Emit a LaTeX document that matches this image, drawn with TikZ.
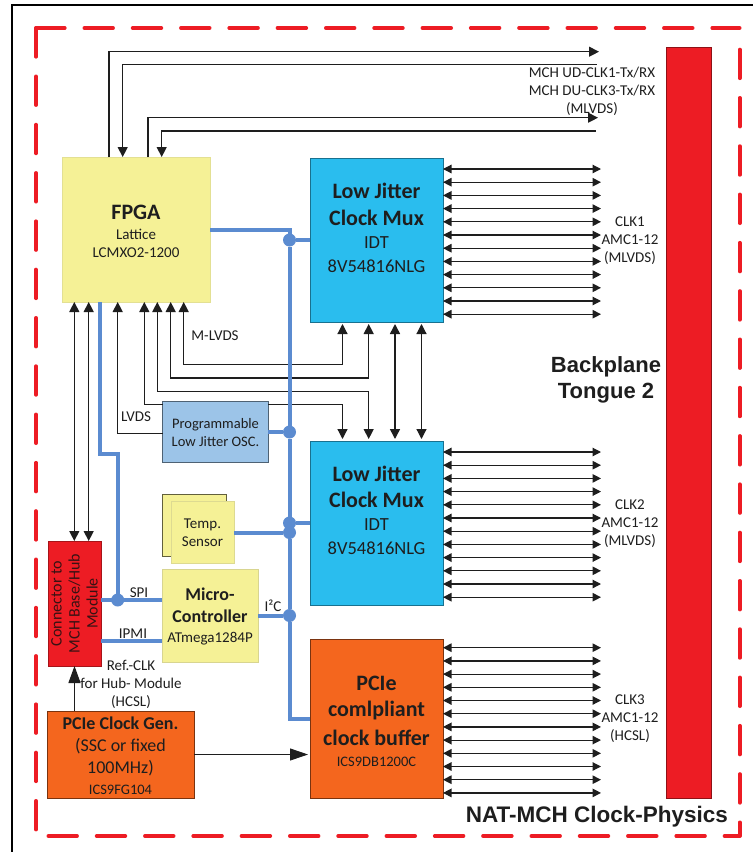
\documentclass[tikz,border=0pt]{standalone}
\usepackage{fontspec}
\setmainfont{Carlito}
\newfontfamily\headfont{Liberation Sans}
\usetikzlibrary{arrows.meta,calc}
\definecolor{rd}{HTML}{ED1C24}
\definecolor{cy}{HTML}{2ABDEE}
\definecolor{yl}{HTML}{F5F196}
\definecolor{og}{HTML}{F4661E}
\definecolor{lb}{HTML}{9CC4E8}
\definecolor{bus}{HTML}{5B8BD0}
\definecolor{ink}{HTML}{1E1E1E}
\newcommand{\fs}[1]{\fontsize{#1}{18}\selectfont}
\tikzset{
  x=1pt,y=-1pt,
  every node/.style={outer sep=0pt,inner sep=0pt,text=ink},
  box/.style={rectangle,minimum width=#1},
  fpgabox/.style={box=148pt,minimum height=145pt,fill=yl,draw=yl!85!gray,line width=.5pt},
  muxbox/.style={box=133pt,minimum height=164pt,fill=cy,draw=cy!60!black,line width=.6pt},
  bufbox/.style={box=133pt,minimum height=159pt,fill=og,draw=og!50!black,line width=.7pt},
  genbox/.style={box=147pt,minimum height=87pt,fill=og,draw=og!50!black,line width=.7pt},
  connbox/.style={box=53pt,minimum height=125pt,fill=rd,draw=rd!70!black,line width=.5pt},
  ucbox/.style={box=96pt,minimum height=93pt,fill=yl,draw=yl!75!gray,line width=.6pt},
  oscbox/.style={box=105.6pt,minimum height=61pt,fill=lb,draw=lb!50!black,line width=.7pt},
  tempback/.style={box=64pt,minimum height=62.5pt,fill=yl,draw=yl!40!black,line width=.7pt},
  tempfront/.style={box=63pt,minimum height=61.5pt,fill=yl,draw=yl!80!gray,line width=.6pt},
  planebox/.style={box=45pt,minimum height=751pt,fill=rd,draw=rd!60!black,line width=.6pt},
  txt/.style={align=center,font=\fs{15}},
  ln/.style={draw=ink,line width=1.2pt},
  gib/.style={-{Triangle[length=10pt,width=10pt]}},
  bth/.style={{Triangle[length=10pt,width=10pt]}-{Triangle[length=10pt,width=10pt]}},
  smal/.style={{Triangle[length=8.5pt,width=8.5pt]}-{Triangle[length=8.5pt,width=8.5pt]}},
  busl/.style={draw=bus,line width=4pt},
  dot/.style={circle,fill=bus,minimum size=13pt},
  dashred/.style={draw=rd,line width=3.6pt,line cap=round,dash pattern=on 28.8pt off 19.5pt},
  fence/.style={draw=black,line width=2pt}
}
\begin{document}
\begin{tikzpicture}
\useasboundingbox (0,0) rectangle (753,852);
\fill[white] (0,0) rectangle (753,852);
% frame
\coordinate (fa) at (12,852);
\coordinate (fb) at (12,5);
\coordinate (fc) at (753,5);
\draw[fence] (fa) -- (fb) -- (fc);
% dashed outline
\coordinate (tl) at (36,28);
\coordinate (tr) at (739.7,28);
\coordinate (rs) at (739.7,49.5);
\coordinate (br) at (739.7,836);
\coordinate (bl) at (36,830);
\coordinate (bx) at (46,836);
\draw[dashred] (tl) -- (tr);
\draw[dashred] (tl) -- (bl);
\draw[dashred] (rs) -- (br);
\draw[dashred,dash phase=13.6pt] (br) -- (bx);
% boxes
\node[planebox] (plane) at (689.2,423) {};
\node[fpgabox] (fpga) at (136,229.5) {};
\node[muxbox] (muxa) at (376.5,240) {};
\node[muxbox] (muxb) at (376.5,523) {};
\node[bufbox] (buf) at (376.5,718.5) {};
\node[genbox] (gen) at (120.5,754.5) {};
\node[connbox] (conn) at (74.5,603.5) {};
\node[ucbox] (uc) at (210,615.5) {};
\node[oscbox] (osc) at (215.5,432) {};
\node[tempback] (tempb) at (194.7,525.5) {};
\node[tempfront] (tempf) at (202.5,532.5) {};
% box texts
\node[txt] (tfpga) at (136,231) {\fs{22}\bfseries FPGA\\[2pt]\fs{15}Lattice\\\fs{15}LCMXO2-1200};
\node[txt] (tmuxa) at (376.5,228) {\fs{22}\bfseries Low Jitter\\[8.5pt]\fs{22}\bfseries Clock Mux\\[5pt]\fs{18.5}IDT\\[6pt]\fs{18.5}8V54816NLG};
\node[txt] (tmuxb) at (376.5,510.5) {\fs{22}\bfseries Low Jitter\\[8.5pt]\fs{22}\bfseries Clock Mux\\[5pt]\fs{18.5}IDT\\[6pt]\fs{18.5}8V54816NLG};
\node[txt] (tbuf) at (376.5,721) {\fs{22}\bfseries PCIe\\[8.7pt]\fs{22}\bfseries comlpliant\\[9pt]\fs{22}\bfseries clock buffer\\[2.5pt]\fs{14.5}ICS9DB1200C};
\node[txt] (tgen) at (120.5,755.5) {\fs{18}\bfseries PCIe Clock Gen.\\[4.7pt]\fs{18}(SSC or fixed\\[3.5pt]\fs{18}100MHz)\\[3pt]\fs{14.5}ICS9FG104};
\node[txt,rotate=90,text=ink!70!rd!60!black] (tconn) at (74.5,603.5) {\fs{16}Connector to\\\fs{16}MCH Base/Hub\\\fs{16}Module};
\node[txt] (tuc) at (210,616.3) {\fs{18}\bfseries Micro-\\[4pt]\fs{18}\bfseries Controller\\[2.5pt]\fs{15}ATmega1284P};
\node[txt] (tosc) at (215.5,432.5) {\fs{14.5}Programmable\\\fs{14.5}Low Jitter OSC.};
\node[txt] (ttemp) at (202.5,533) {\fs{15}Temp.\\\fs{15}Sensor};
% anchors below FPGA and beside muxes
\coordinate (fa1) at ([xshift=12.3pt]fpga.south west);
\coordinate (fa2) at ([xshift=26.7pt]fpga.south west);
\coordinate (fb0) at ([xshift=37.5pt]fpga.south west);
\coordinate (fa3) at ([xshift=55.7pt]fpga.south west);
\coordinate (fa4) at ([xshift=82.3pt]fpga.south west);
\coordinate (fa5) at ([xshift=95.3pt]fpga.south west);
\coordinate (fa6) at ([xshift=108.7pt]fpga.south west);
\coordinate (fa7) at ([xshift=121.7pt]fpga.south west);
\coordinate (ca1) at ([xshift=26.3pt]conn.north west);
\coordinate (ca2) at ([xshift=40.7pt]conn.north west);
\coordinate (ua) at ([xshift=32.5pt,yshift=-2pt]muxa.south west);
\coordinate (ub) at ([xshift=58.7pt,yshift=-2pt]muxa.south west);
\coordinate (uc2) at ([xshift=85pt,yshift=-2pt]muxa.south west);
\coordinate (ud) at ([xshift=111.5pt,yshift=-2pt]muxa.south west);
\coordinate (la) at ([xshift=32.5pt,yshift=2pt]muxb.north west);
\coordinate (lb) at ([xshift=58.7pt,yshift=2pt]muxb.north west);
\coordinate (lc) at ([xshift=85pt,yshift=2pt]muxb.north west);
\coordinate (ld) at ([xshift=111.5pt,yshift=2pt]muxb.north west);
\coordinate (ra) at (0,364.3);
\coordinate (rb) at (0,378);
\coordinate (rc) at (0,391.3);
\coordinate (rd) at (0,404.7);
\coordinate (re) at (0,433.7);
% top lines
\coordinate (ta) at ([xshift=47pt]fpga.north west);
\coordinate (tb) at ([xshift=60.7pt]fpga.north west);
\coordinate (tc) at ([xshift=86pt]fpga.north west);
\coordinate (td) at ([xshift=99.7pt]fpga.north west);
\coordinate (ea) at (599,51.7);
\coordinate (eb) at (596.7,64.7);
\coordinate (ec) at (598,117.7);
\coordinate (ed) at (595.7,131);
\draw[ln,gib] (ta) -- (ta |- ea) -- (ea);
\draw[ln,gib] (eb) -- (tb |- eb) -- (tb);
\draw[ln,gib] (tc) -- (tc |- ec) -- (ec);
\draw[ln,gib] (ed) -- (td |- ed) -- (td);
% FPGA to connector
\draw[ln,bth] (fa1) -- (ca1);
\draw[ln,bth] (fa2) -- (ca2);
% FPGA to muxes and oscillator
\draw[ln,bth] (fa7) -- (fa7 |- ra) -- (ua |- ra) -- (ua);
\draw[ln,bth] (fa6) -- (fa6 |- rb) -- (ub |- rb) -- (ub);
\draw[ln,bth] (fa5) -- (fa5 |- rc) -- (lb |- rc) -- (lb);
\draw[ln,gib] (osc.north west |- rd) -- (fa4 |- rd) -- (fa4);
\draw[ln,gib] (osc.north east |- rd) -- (la |- rd) -- (la);
\draw[ln,gib] (osc.west |- re) -- (fa3 |- re) -- (fa3);
% mux to mux
\draw[ln,bth,line width=1.5pt] (uc2) -- (lc);
\draw[ln,bth] (ud) -- (ld);
% clock fans
\foreach \i in {0,...,11} {
  \coordinate (pa) at (601,{169+13.2*\i});
  \draw[ln,smal] (muxa.east |- pa) -- (pa);
  \coordinate (pb) at (601,{452+13.2*\i});
  \draw[ln,smal] (muxb.east |- pb) -- (pb);
  \coordinate (pc) at (601,{647.7+13.2*\i});
  \draw[ln,smal] (buf.east |- pc) -- (pc);
}
% PCIe clock generator arrows
\draw[ln,-{Triangle[length=17pt,width=12pt]}] (gen.north -| conn.south) -- (conn.south);
\draw[line width=.9pt,draw=ink,-{Triangle[length=18pt,width=12pt]}] (gen.east) -- ([xshift=-2pt]gen.east -| buf.west);
% blue bus
\node[dot] (da) at (289.5,240) {};
\node[dot] (db) at (289.5,432) {};
\node[dot] (dc) at (289.5,523) {};
\node[dot] (dd) at (289.5,532.5) {};
\node[dot] (de) at (289.5,615.5) {};
\node[dot] (df) at (117.7,600) {};
\coordinate (ga) at (0,454);
\coordinate (gb) at (0,641);
\draw[busl] (fpga.east) -- (fpga.east -| da) -- (da) -- (db) -- (dc) -- (dd) -- (de) -- (de |- buf.west) -- (buf.west);
\draw[busl] (da) -- (muxa.west);
\draw[busl] (db) -- (osc.east);
\draw[busl] (dc) -- (muxb.west);
\draw[busl] (dd) -- (tempf.east);
\draw[busl] (de) -- (uc.east);
\draw[busl] (fb0) -- (fb0 |- ga) -- (df |- ga) -- (df);
\draw[busl] (conn.east |- df) -- (uc.west |- df);
\draw[busl] (conn.east |- gb) -- (uc.west |- gb);
% labels
\node[txt] (lmch) at (592,91) {MCH UD-CLK1-Tx/RX\\MCH DU-CLK3-Tx/RX\\(MLVDS)};
\node[txt] (lclka) at (630,240.5) {CLK1\\AMC1-12\\(MLVDS)};
\node[txt] (lclkb) at (630,523.5) {CLK2\\AMC1-12\\(MLVDS)};
\node[txt] (lclkc) at (630,719) {CLK3\\AMC1-12\\(HCSL)};
\node[txt] (lml) at (215,336) {M-LVDS};
\node[txt] (ll) at (136,417) {LVDS};
\node[txt] (lspi) at (139,592.5) {SPI};
\node[txt] (lipmi) at (133,633.5) {IPMI};
\node[txt] (lic) at (273,605.5) {I²C};
\node[txt] (lref) at (131,684) {Ref.-CLK\\for Hub- Module\\(HCSL)};
\node[txt,font=\headfont\fontsize{22}{26}\selectfont\bfseries] (lbp) at (606,380) {Backplane\\Tongue 2};
\node[txt,font=\headfont\fontsize{22.5}{24}\selectfont\bfseries,anchor=east] (lnat) at (728,817) {NAT-MCH Clock-Physics};
\end{tikzpicture}
\end{document}
